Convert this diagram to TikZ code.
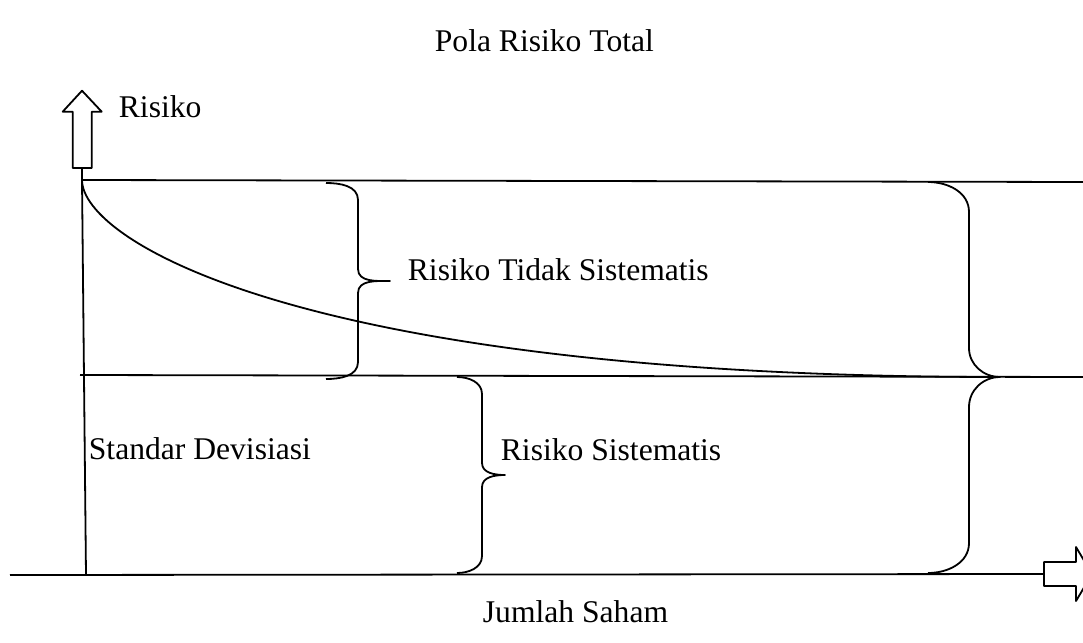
\documentclass[tikz,border=0pt]{standalone}
\usepackage{fontspec}
\setmainfont{Liberation Serif}
\begin{document}
\begin{tikzpicture}[x=1pt,y=-1pt,line width=1.8pt,line join=round,
  lbl/.style={font=\fontsize{31.6}{36}\selectfont,inner sep=0pt,anchor=base west},
  hollow/.style={draw,fill=white,line width=1.8pt}]
\useasboundingbox (0,0) rectangle (1083,642);
\clip (0,0) rectangle (1083,642);
% key points
\coordinate (O) at (82,180);     % top-left corner of risk area
\coordinate (M) at (80,375);     % left end of systematic level
\coordinate (B) at (86,575);     % foot of vertical axis
\coordinate (TR) at (1083,182);
\coordinate (MR) at (1083,377);
\coordinate (XL) at (10,575);
\coordinate (XR) at (1044,574);
\coordinate (P) at (1000,377);   % where the curve meets systematic level
% vertical axis with hollow arrow
\draw (82,168) -- (O) -- (B);
\draw[hollow] (72.7,168) -- (72.7,111.7) -- (62.7,111.7) -- (82,90.7) -- (101.7,111.7) -- (91.7,111.7) -- (91.7,168) -- cycle;
% horizontal axis with hollow arrow
\draw (XL) -- (XR);
\draw[hollow] (1044,562) -- (1076,562) -- (1076,547) -- (1092,574) -- (1076,601) -- (1076,586) -- (1044,586) -- cycle;
% levels
\draw (O) -- (TR);
\draw (M) -- (MR);
% total risk curve
\draw (O) .. controls (82,240) and (300,377) .. (P);
% brace 1 (unsystematic)
\draw (326,183) to[out=0,in=90] (358,200) -- (358,269) to[out=-90,in=180] (390,281)
      to[out=180,in=90] (358,293) -- (358,362) to[out=-90,in=0] (326,379);
% brace 2 (systematic)
\draw (457,377) to[out=0,in=90] (482,394) -- (482,463) to[out=-90,in=180] (505,475)
      to[out=180,in=90] (482,487) -- (482,556) to[out=-90,in=0] (457,573);
% big brace (total)
\draw (928,182) to[out=0,in=90] (969,212) -- (969,348) to[out=-90,in=180] (P)
      to[out=180,in=90] (969,407) -- (969,543) to[out=-90,in=0] (928,573);
% labels
\node[lbl] (title) at (434,52) {Pola Risiko Total};
\node[lbl] (ylab) at (118,117.7) {Risiko};
\node[lbl] (unsys) at (407,280) {Risiko Tidak Sistematis};
\node[lbl] (sd) at (88,459) {Standar Devisiasi};
\node[lbl] (sys) at (500,460) {Risiko Sistematis};
\node[lbl] (xlab) at (482,622) {Jumlah Saham};
\end{tikzpicture}
\end{document}
